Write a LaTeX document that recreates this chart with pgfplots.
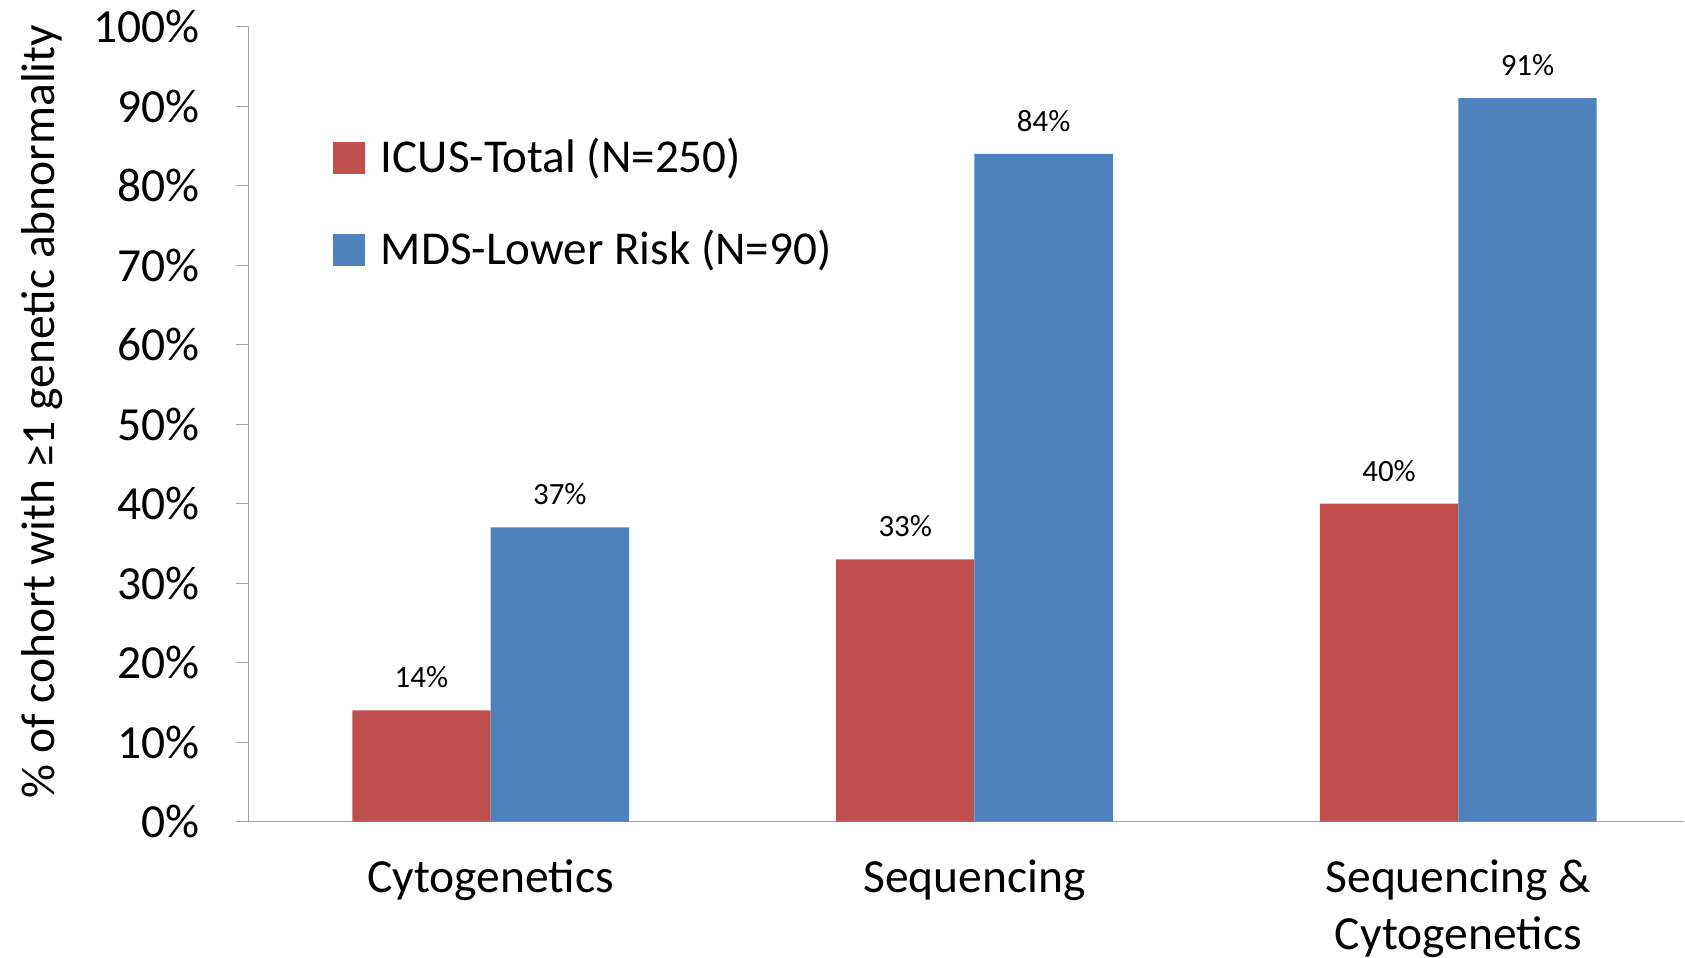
\documentclass[border=0pt]{standalone}
\usepackage{fontspec}
\setmainfont{Carlito}
\usepackage{pgfplots}
\pgfplotsset{compat=1.18}
\definecolor{icusred}{HTML}{C0504D}
\definecolor{mdsblue}{HTML}{4F81BD}
\definecolor{axisgray}{HTML}{A0A0A0}

\begin{document}
\begin{tikzpicture}
\begin{axis}[
  scale only axis,
  width=13.38cm, height=7.41cm,
  ybar=0pt, bar width=1.29cm,
  xmin=-0.5, xmax=2.467,
  ymin=0, ymax=100,
  xtick=data,
  xticklabels={Cytogenetics, Sequencing, {Sequencing \&\\Cytogenetics}},
  ytick={0,10,...,100},
  yticklabel={\pgfmathprintnumber{\tick}\%},
  /pgf/number format/assume math mode=true,
  axis lines=left,
  axis line style={axisgray, -},
  major tick style={axisgray},
  tick align=outside,
  major tick length=1.2mm,
  x tick style={draw=none},
  ticklabel style={font=\fontsize{12.6}{15}\selectfont},
  yticklabel style={inner sep=0pt, xshift=-3.3mm},
  xticklabel style={align=center, inner sep=0pt, yshift=-2.3mm},
  ylabel={\% of cohort with ≥1 genetic abnormality},
  ylabel style={at={(axis description cs:-0.144,0.516)}, anchor=center,
    inner xsep=2.3mm, inner ysep=2mm,
    font=\fontsize{12.6}{15}\selectfont},
  nodes near coords={\pgfmathprintnumber{\pgfplotspointmeta}\%},
  nodes near coords style={font=\fontsize{8.2}{10}\selectfont, inner sep=0pt, anchor=south, yshift=2mm},
  legend style={at={(0.05,0.88)}, anchor=north west, draw=none, fill=none,
    font=\fontsize{12.5}{15}\selectfont, row sep=3.4mm, column sep=0.8mm},
  legend cell align=left,
  legend image code/.code={\fill[#1] (0mm,-1.5mm) rectangle (3mm,1.5mm);},
]
\addplot[fill=icusred, draw=none] coordinates {(0,14) (1,33) (2,40)};
\addplot[fill=mdsblue, draw=none] coordinates {(0,37) (1,84) (2,91)};
\legend{ICUS-Total (N=250), MDS-Lower Risk (N=90)}
\end{axis}
\end{tikzpicture}
\end{document}
